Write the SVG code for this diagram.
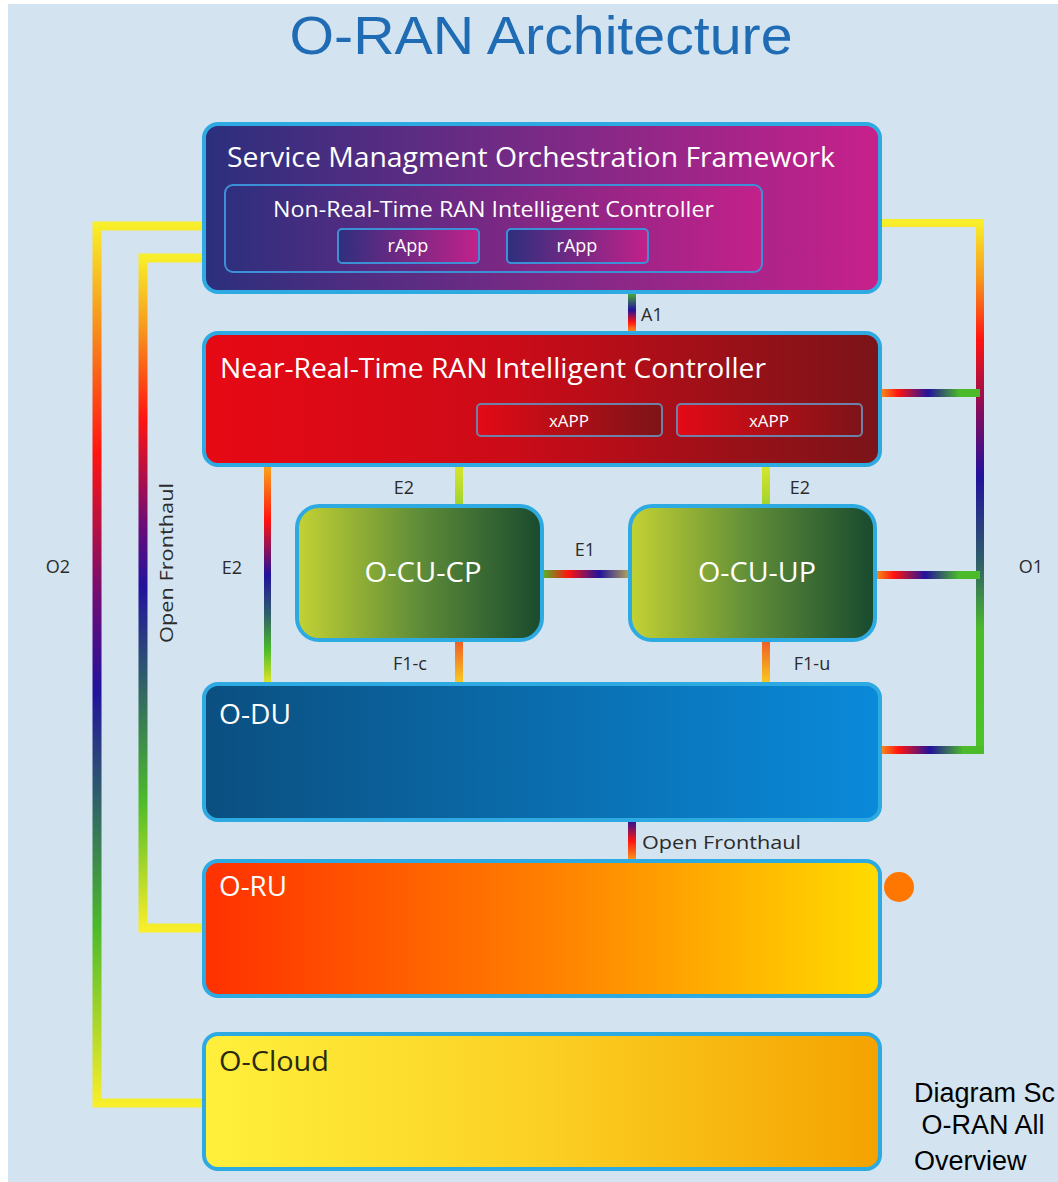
<svg xmlns="http://www.w3.org/2000/svg" width="1058" height="1182" viewBox="0 0 1058 1182">
<defs>
<style>
.box{stroke:#2eaae2;stroke-width:4}
.lbl{font-family:"Open Sans","Liberation Sans",sans-serif;fill:#2b2b2b;font-size:18px}
.wt{font-family:"Open Sans","Liberation Sans",sans-serif;fill:#ffffff}
.inner{stroke:#3d8fd6;stroke-width:2}
</style>
<linearGradient id="gSmo" x1="0" y1="0" x2="1" y2="0"><stop offset="0" stop-color="#2b2f7d"/><stop offset="0.5" stop-color="#7a2a86"/><stop offset="1" stop-color="#c8208b"/></linearGradient>
<linearGradient id="gRapp" x1="0" y1="0" x2="1" y2="0"><stop offset="0" stop-color="#2e2f7e"/><stop offset="1" stop-color="#c3218a"/></linearGradient>
<linearGradient id="gRic" x1="0" y1="0" x2="1" y2="0"><stop offset="0" stop-color="#e60914"/><stop offset="0.45" stop-color="#cc0b18"/><stop offset="1" stop-color="#7a1418"/></linearGradient>
<linearGradient id="gX" x1="0" y1="0" x2="1" y2="0"><stop offset="0" stop-color="#e30a16"/><stop offset="1" stop-color="#7c1418"/></linearGradient>
<linearGradient id="gCu" x1="0" y1="0" x2="1" y2="0"><stop offset="0" stop-color="#c4d233"/><stop offset="0.5" stop-color="#5e8c38"/><stop offset="1" stop-color="#184a2e"/></linearGradient>
<linearGradient id="gDu" x1="0" y1="0" x2="1" y2="0"><stop offset="0" stop-color="#0b4f80"/><stop offset="1" stop-color="#0a8ada"/></linearGradient>
<linearGradient id="gRu" x1="0" y1="0" x2="1" y2="0"><stop offset="0" stop-color="#ff3000"/><stop offset="0.5" stop-color="#ff7e00"/><stop offset="1" stop-color="#ffdc00"/></linearGradient>
<linearGradient id="gCl" x1="0" y1="0" x2="1" y2="0"><stop offset="0" stop-color="#fff03c"/><stop offset="0.5" stop-color="#fbd024"/><stop offset="1" stop-color="#f5a200"/></linearGradient>
<linearGradient id="gO2" gradientUnits="userSpaceOnUse" x1="0" y1="226" x2="0" y2="1103"><stop offset="0" stop-color="#f8ee2a"/><stop offset="0.11" stop-color="#f7941d"/><stop offset="0.26" stop-color="#ff1410"/><stop offset="0.43" stop-color="#6a0c78"/><stop offset="0.53" stop-color="#22129c"/><stop offset="0.65" stop-color="#2f5e6a"/><stop offset="0.8" stop-color="#4cbb2a"/><stop offset="1" stop-color="#f8ee2a"/></linearGradient>
<linearGradient id="gOF" gradientUnits="userSpaceOnUse" x1="0" y1="258" x2="0" y2="928"><stop offset="0" stop-color="#f8ee2a"/><stop offset="0.11" stop-color="#f7941d"/><stop offset="0.24" stop-color="#ff1410"/><stop offset="0.4" stop-color="#6a0c78"/><stop offset="0.49" stop-color="#22129c"/><stop offset="0.63" stop-color="#2f5e6a"/><stop offset="0.81" stop-color="#4cbb2a"/><stop offset="1" stop-color="#f8ee2a"/></linearGradient>
<linearGradient id="gO1" gradientUnits="userSpaceOnUse" x1="0" y1="223" x2="0" y2="752"><stop offset="0" stop-color="#f8ee2a"/><stop offset="0.11" stop-color="#f7941d"/><stop offset="0.22" stop-color="#ff1410"/><stop offset="0.35" stop-color="#8a0c5a"/><stop offset="0.48" stop-color="#22129c"/><stop offset="0.64" stop-color="#2f5e6a"/><stop offset="0.77" stop-color="#4cbb2a"/><stop offset="1" stop-color="#4cc42a"/></linearGradient>
<linearGradient id="gE2L" gradientUnits="userSpaceOnUse" x1="0" y1="465" x2="0" y2="685"><stop offset="0" stop-color="#f8a81d"/><stop offset="0.25" stop-color="#ff1410"/><stop offset="0.5" stop-color="#22129c"/><stop offset="0.68" stop-color="#2f5e6a"/><stop offset="0.84" stop-color="#4cbb2a"/><stop offset="1" stop-color="#e8e82a"/></linearGradient>
<linearGradient id="gE2S" x1="0" y1="0" x2="0" y2="1"><stop offset="0" stop-color="#d8e62c"/><stop offset="1" stop-color="#a0d22e"/></linearGradient>
<linearGradient id="gF1" x1="0" y1="0" x2="0" y2="1"><stop offset="0" stop-color="#f05a24"/><stop offset="1" stop-color="#f8d020"/></linearGradient>
<linearGradient id="gA1" x1="0" y1="0" x2="0" y2="1"><stop offset="0" stop-color="#4cbb2a"/><stop offset="0.45" stop-color="#22129c"/><stop offset="0.75" stop-color="#ff1410"/><stop offset="1" stop-color="#f7941d"/></linearGradient>
<linearGradient id="gOFm" x1="0" y1="0" x2="0" y2="1"><stop offset="0" stop-color="#22129c"/><stop offset="0.5" stop-color="#ff1410"/><stop offset="1" stop-color="#f7a81d"/></linearGradient>
<linearGradient id="gE1" x1="0" y1="0" x2="1" y2="0"><stop offset="0" stop-color="#4cbb2a"/><stop offset="0.3" stop-color="#ff1410"/><stop offset="0.65" stop-color="#22129c"/><stop offset="1" stop-color="#b8a858"/></linearGradient>
<linearGradient id="gStub" x1="0" y1="0" x2="1" y2="0"><stop offset="0" stop-color="#f7941d"/><stop offset="0.18" stop-color="#ff1410"/><stop offset="0.48" stop-color="#22129c"/><stop offset="0.8" stop-color="#4cbb2a"/><stop offset="1" stop-color="#4cbb2a"/></linearGradient>
</defs>
<rect x="0" y="0" width="1058" height="1182" fill="#ffffff"/>
<rect x="8" y="4" width="1050" height="1178" fill="#d3e3f0"/>
<text x="541" y="54" text-anchor="middle" font-family="Liberation Sans, Arial, sans-serif" font-size="54" fill="#1f6cb4" textLength="503" lengthAdjust="spacingAndGlyphs">O-RAN Architecture</text>
<g id="connectors">
<path d="M204 226 H97 V1103 H204" fill="none" stroke="url(#gO2)" stroke-width="9"/>
<path d="M204 258 H143 V928 H204" fill="none" stroke="url(#gOF)" stroke-width="9"/>
<path d="M880 223 H980 V752" fill="none" stroke="url(#gO1)" stroke-width="8"/>
<rect x="880" y="389" width="100" height="8" fill="url(#gStub)"/>
<rect x="875" y="571" width="105" height="8" fill="url(#gStub)"/>
<rect x="880" y="746" width="104" height="8" fill="url(#gStub)"/>
<rect x="628" y="292" width="8" height="40" fill="url(#gA1)"/>
<rect x="264" y="465" width="7" height="220" fill="url(#gE2L)"/>
<rect x="455" y="465" width="8" height="42" fill="url(#gE2S)"/>
<rect x="762" y="465" width="8" height="42" fill="url(#gE2S)"/>
<rect x="542" y="570" width="88" height="8" fill="url(#gE1)"/>
<rect x="455" y="640" width="8" height="45" fill="url(#gF1)"/>
<rect x="762" y="640" width="8" height="45" fill="url(#gF1)"/>
<rect x="628" y="820" width="8" height="42" fill="url(#gOFm)"/>
<text class="lbl" x="641" y="321">A1</text>
<text class="lbl" x="404" y="494" text-anchor="middle">E2</text>
<text class="lbl" x="800" y="494" text-anchor="middle">E2</text>
<text class="lbl" x="232" y="574" text-anchor="middle">E2</text>
<text class="lbl" x="585" y="556" text-anchor="middle">E1</text>
<text class="lbl" x="410" y="670" text-anchor="middle">F1-c</text>
<text class="lbl" x="812" y="670" text-anchor="middle">F1-u</text>
<text class="lbl" x="642" y="849" font-size="20" textLength="159" lengthAdjust="spacingAndGlyphs">Open Fronthaul</text>
<text class="lbl" x="58" y="573" text-anchor="middle">O2</text>
<text class="lbl" x="1031" y="573" text-anchor="middle">O1</text>
<text class="lbl" transform="translate(173 563) rotate(-90)" text-anchor="middle" font-size="20" textLength="160" lengthAdjust="spacingAndGlyphs">Open Fronthaul</text>
</g>
<g id="smo">
<rect class="box" x="204" y="124" width="676" height="168" rx="14" fill="url(#gSmo)"/>
<text class="wt" x="227" y="167" font-size="28" textLength="608" lengthAdjust="spacingAndGlyphs">Service Managment Orchestration Framework</text>
</g>
<g id="nonrt-ric">
<rect class="inner" x="225" y="185" width="537" height="87" rx="8" fill="url(#gRapp)"/>
<text class="wt" x="273" y="217" font-size="22" textLength="441" lengthAdjust="spacingAndGlyphs">Non-Real-Time RAN Intelligent Controller</text>
</g>
<g id="rapp1">
<rect class="inner" x="338" y="229" width="141" height="34" rx="4" fill="url(#gRapp)"/>
<text class="wt" x="408" y="252" font-size="18" text-anchor="middle">rApp</text>
</g>
<g id="rapp2">
<rect class="inner" x="507" y="229" width="141" height="34" rx="4" fill="url(#gRapp)"/>
<text class="wt" x="577" y="252" font-size="18" text-anchor="middle">rApp</text>
</g>
<g id="nearrt-ric">
<rect class="box" x="204" y="333" width="676" height="132" rx="14" fill="url(#gRic)"/>
<text class="wt" x="220" y="378" font-size="28" textLength="546" lengthAdjust="spacingAndGlyphs">Near-Real-Time RAN Intelligent Controller</text>
</g>
<g id="xapp1">
<rect x="477" y="404" width="185" height="32" rx="4" fill="url(#gX)" stroke="#7080a8" stroke-width="2"/>
<text class="wt" x="569" y="427" font-size="17" text-anchor="middle">xAPP</text>
</g>
<g id="xapp2">
<rect x="677" y="404" width="185" height="32" rx="4" fill="url(#gX)" stroke="#7080a8" stroke-width="2"/>
<text class="wt" x="769" y="427" font-size="17" text-anchor="middle">xAPP</text>
</g>
<g id="ocu-cp">
<rect class="box" x="297" y="506" width="245" height="134" rx="22" fill="url(#gCu)"/>
<text class="wt" x="423" y="582" font-size="28" text-anchor="middle" textLength="117" lengthAdjust="spacingAndGlyphs">O-CU-CP</text>
</g>
<g id="ocu-up">
<rect class="box" x="630" y="506" width="245" height="134" rx="22" fill="url(#gCu)"/>
<text class="wt" x="757" y="582" font-size="28" text-anchor="middle" textLength="118" lengthAdjust="spacingAndGlyphs">O-CU-UP</text>
</g>
<g id="odu">
<rect class="box" x="204" y="684" width="676" height="136" rx="14" fill="url(#gDu)"/>
<text class="wt" x="219" y="724" font-size="28" textLength="72" lengthAdjust="spacingAndGlyphs">O-DU</text>
</g>
<g id="oru">
<rect class="box" x="204" y="861" width="676" height="135" rx="14" fill="url(#gRu)"/>
<text class="wt" x="219" y="896" font-size="28" textLength="68" lengthAdjust="spacingAndGlyphs">O-RU</text>
</g>
<g id="ocloud">
<rect class="box" x="204" y="1034" width="676" height="135" rx="14" fill="url(#gCl)"/>
<text x="219" y="1071" font-family="Open Sans, Liberation Sans, sans-serif" font-size="28" fill="#2a2a12" textLength="110" lengthAdjust="spacingAndGlyphs">O-Cloud</text>
</g>
<g id="marker-dot">
<circle cx="899" cy="887" r="15" fill="#ff7700"/>
</g>
<g id="source-note" font-family="Liberation Sans, Arial, sans-serif" font-size="27" fill="#000000">
<text x="914" y="1102">Diagram Sc</text>
<text x="914" y="1134" xml:space="preserve"> O-RAN All</text>
<text x="914" y="1170">Overview</text>
</g>
</svg>
